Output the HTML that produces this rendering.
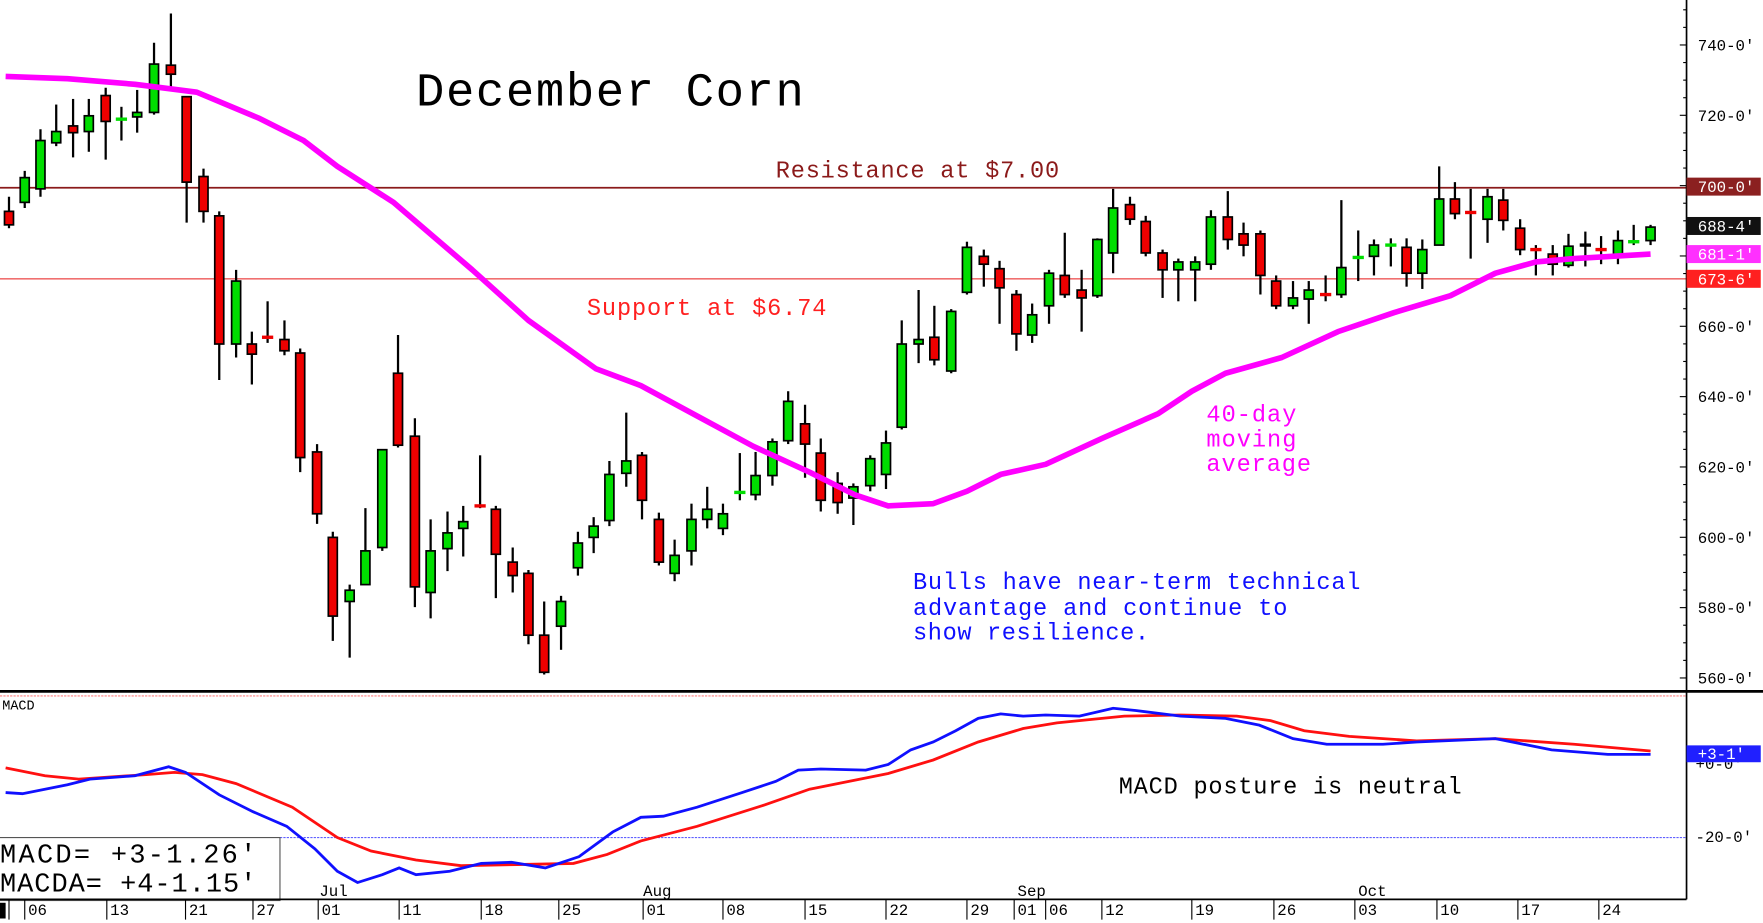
<!DOCTYPE html>
<html><head><meta charset="utf-8"><style>
html,body{margin:0;padding:0;background:#fff;overflow:hidden}
svg{display:block}
text{font-family:"Liberation Mono",monospace}
</style></head><body>
<svg id="s" width="1763" height="923" viewBox="0 0 1568 821" preserveAspectRatio="none" xmlns="http://www.w3.org/2000/svg">
<rect width="1568" height="821" fill="#fff"/>
<line x1="0" y1="167" x2="1500" y2="167" stroke="#8b1a1a" stroke-width="1.5"/>
<line x1="0" y1="248" x2="1500" y2="248" stroke="#f07070" stroke-width="1.5"/>
<g id="cd"></g>
<polyline id="ma" fill="none" stroke="#ff00ff" stroke-width="5" stroke-linejoin="round"/>
<text x="370" y="94" font-size="42" textLength="345" lengthAdjust="spacing" fill="#000">December Corn</text>
<text x="690" y="158" font-size="21" textLength="252" lengthAdjust="spacing" fill="#8b1a1a">Resistance at $7.00</text>
<text x="522" y="280" font-size="21" textLength="213" lengthAdjust="spacing" fill="#ff2020">Support at $6.74</text>
<g font-size="21" fill="#ff00ff"><text x="1073" y="375" textLength="80" lengthAdjust="spacing">40-day</text><text x="1073" y="397" textLength="80" lengthAdjust="spacing">moving</text><text x="1073" y="419" textLength="93" lengthAdjust="spacing">average</text></g>
<g font-size="21" fill="#1010ff"><text x="812" y="524" textLength="398" lengthAdjust="spacing">Bulls have near-term technical</text><text x="812" y="547" textLength="333" lengthAdjust="spacing">advantage and continue to</text><text x="812" y="569" textLength="210" lengthAdjust="spacing">show resilience.</text></g>
<line x1="1500" y1="0" x2="1500" y2="800" stroke="#000" stroke-width="1.5"/>
<g id="ax" font-size="14" fill="#000"></g>
<rect x="1500" y="158" width="66" height="16" fill="#8b2020"/><text x="1510" y="171" font-size="14" fill="#fff">700-0'</text>
<rect x="1500" y="193" width="66" height="16" fill="#111"/><text x="1510" y="206" font-size="14" fill="#fff">688-4'</text>
<rect x="1500" y="218" width="66" height="16" fill="#ff30ff"/><text x="1510" y="231" font-size="14" fill="#fff">681-1'</text>
<rect x="1500" y="240" width="66" height="16" fill="#ff2020"/><text x="1510" y="253" font-size="14" fill="#fff">673-6'</text>
<line x1="0" y1="615" x2="1568" y2="615" stroke="#000" stroke-width="2.5"/>
<line x1="0" y1="619" x2="1500" y2="619" stroke="#ff8080" stroke-width="1" stroke-dasharray="2,1"/>
<text x="2" y="631" font-size="12" fill="#000">MACD</text>
<line x1="0" y1="745" x2="1500" y2="745" stroke="#6060ff" stroke-width="1" stroke-dasharray="2,1"/>
<text x="1508" y="684" font-size="14" fill="#000">+0-0'</text>
<text x="1508" y="749" font-size="14" fill="#000">-20-0'</text>
<polyline id="mr" fill="none" stroke="#ff1010" stroke-width="2.5"/>
<polyline id="mb" fill="none" stroke="#1010ff" stroke-width="2.5"/>
<rect x="1500" y="663" width="66" height="15" fill="#2020ff"/><text x="1510" y="675" font-size="14" fill="#fff">+3-1'</text>
<text x="995" y="706" font-size="21" textLength="305" lengthAdjust="spacing" fill="#000">MACD posture is neutral</text>
<rect x="-1" y="745" width="250" height="56" fill="#fff" stroke="#555" stroke-width="1"/>
<text x="0" y="767" font-size="24" textLength="228" lengthAdjust="spacing" fill="#000">MACD=   +3-1.26'</text>
<text x="0" y="793" font-size="24" textLength="228" lengthAdjust="spacing" fill="#000">MACDA=  +4-1.15'</text>
<line x1="0" y1="800" x2="1500" y2="800" stroke="#000" stroke-width="1.5"/>
<g id="dt" font-size="14" fill="#000"></g>
<g font-size="14" fill="#000"><text x="284" y="797">Jul</text><text x="572" y="797">Aug</text><text x="905" y="797">Sep</text><text x="1208" y="797">Oct</text></g>
<rect x="0" y="803" width="5" height="14" fill="#000"/>
</svg>
<script>
var NS="http://www.w3.org/2000/svg";
function el(p,t,a,txt){var e=document.createElementNS(NS,t);for(var k in a)e.setAttribute(k,a[k]);if(txt)e.textContent=txt;p.appendChild(e);return e;}
var C=[[8,188,200,175,203,'r'],[22,158,180,152,185,'g'],[36,125,168,115,175,'g'],[50,117,127,93,130,'g'],[65,112,118,88,140,'r'],[79,103,117,88,135,'g'],[94,85,108,78,142,'r'],[108,106,106,95,125,'g'],[122,100,104,80,118,'g'],[137,57,100,38,102,'g'],[152,58,66,12,80,'r'],[166,86,162,86,198,'r'],[181,157,188,150,198,'r'],[195,192,306,188,338,'r'],[210,250,306,240,318,'g'],[224,306,315,295,342,'r'],[238,300,300,268,305,'r'],[253,302,312,285,316,'r'],[267,314,407,310,420,'r'],[282,402,457,395,466,'r'],[296,478,548,473,570,'r'],[311,525,535,520,585,'g'],[325,490,520,452,520,'g'],[340,400,487,400,490,'g'],[354,332,396,298,398,'r'],[369,388,522,372,540,'r'],[383,490,527,462,550,'g'],[398,474,488,455,508,'g'],[412,464,470,450,495,'g'],[427,450,450,405,452,'r'],[441,453,493,450,532,'r'],[456,500,512,487,527,'r'],[470,510,565,507,573,'r'],[484,565,598,535,600,'r'],[499,535,557,530,578,'g'],[514,483,505,473,512,'g'],[528,468,478,460,492,'g'],[542,422,463,410,468,'g'],[557,410,421,367,433,'g'],[571,405,445,402,462,'r'],[586,462,500,456,503,'r'],[600,494,510,480,517,'g'],[615,462,490,448,503,'g'],[629,453,462,433,470,'g'],[643,457,470,448,476,'g'],[658,438,438,403,445,'g'],[672,423,440,402,445,'g'],[687,393,423,390,432,'g'],[701,357,392,348,395,'g'],[716,377,395,360,425,'r'],[730,403,445,390,455,'r'],[745,430,447,420,457,'r'],[759,433,443,430,467,'g'],[774,408,432,405,437,'g'],[788,394,422,383,435,'g'],[802,306,380,285,382,'g'],[817,302,306,258,323,'g'],[831,300,320,272,325,'r'],[846,277,330,275,332,'g'],[860,220,260,215,262,'g'],[875,228,235,222,255,'r'],[889,239,256,232,288,'r'],[904,262,297,258,312,'r'],[918,280,298,270,305,'g'],[933,243,272,240,288,'g'],[947,245,262,207,265,'r'],[962,258,265,240,295,'r'],[976,213,263,212,265,'g'],[990,185,225,168,243,'g'],[1005,182,195,175,200,'r'],[1019,197,225,192,228,'r'],[1034,225,240,222,265,'r'],[1048,233,240,230,268,'g'],[1063,233,240,228,268,'g'],[1077,193,235,187,240,'g'],[1092,193,213,170,222,'r'],[1106,208,218,198,228,'r'],[1121,208,245,205,262,'r'],[1135,250,272,245,275,'r'],[1150,265,272,250,275,'g'],[1164,258,266,250,288,'g'],[1179,262,262,245,268,'r'],[1193,238,262,178,265,'g'],[1208,229,229,205,250,'g'],[1222,218,228,213,245,'g'],[1237,218,218,212,237,'g'],[1251,220,243,212,255,'r'],[1265,222,243,213,257,'g'],[1280,177,218,148,218,'g'],[1294,177,190,162,195,'r'],[1308,189,189,168,230,'r'],[1323,175,195,168,216,'g'],[1337,178,196,168,205,'r'],[1352,203,222,195,227,'r'],[1366,222,222,218,245,'r'],[1381,226,235,218,245,'r'],[1395,219,236,208,238,'g'],[1410,218,218,206,237,'k'],[1424,222,222,210,235,'r'],[1439,214,227,205,235,'g'],[1453,215,215,200,218,'g'],[1468,202,214,200,218,'g']];
var g=document.getElementById('cd');
C.forEach(function(c){var col=c[5]=='g'?'#00dd00':c[5]=='r'?'#ee0000':'#000';
el(g,'line',{x1:c[0],y1:c[3],x2:c[0],y2:c[4],stroke:'#000','stroke-width':2});
if(c[2]-c[1]<2){el(g,'rect',{x:c[0]-5,y:c[1]-1.5,width:10,height:3,fill:col});}
else el(g,'rect',{x:c[0]-4,y:c[1],width:8,height:c[2]-c[1],fill:col,stroke:'#000','stroke-width':1.5});});
function pts(a){return a.map(function(p){return p.join(',')}).join(' ');}
document.getElementById('ma').setAttribute('points',pts([[5,68],[60,70],[120,75],[175,82],[230,105],[270,125],[300,148],[350,180],[420,240],[470,285],[530,328],[570,343],[620,370],[670,397],[720,420],[760,440],[790,450],[830,448],[860,437],[890,422],[930,413],[980,390],[1030,368],[1060,348],[1090,332],[1140,318],[1190,295],[1240,278],[1290,263],[1330,243],[1366,233],[1400,230],[1468,226]]));
document.getElementById('mb').setAttribute('points',pts([[5,705],[20,706],[60,698],[80,693],[120,690],[150,682],[165,687],[195,707],[225,722],[255,735],[280,755],[300,775],[318,785],[340,778],[355,772],[370,778],[400,775],[428,768],[455,767],[485,772],[515,762],[545,740],[570,727],[590,726],[620,718],[660,705],[690,695],[710,685],[730,684],[770,685],[790,680],[810,667],[830,660],[850,650],[870,639],[890,635],[910,637],[930,636],[960,637],[990,630],[1010,632],[1050,637],[1090,639],[1120,645],[1150,657],[1180,662],[1230,662],[1260,660],[1330,657],[1380,667],[1430,671],[1468,671]]));
document.getElementById('mr').setAttribute('points',pts([[5,683],[40,690],[70,693],[130,689],[155,687],[180,689],[210,697],[260,718],[300,745],[330,757],[370,765],[410,770],[460,769],[510,768],[540,760],[570,748],[620,735],[680,716],[720,702],[760,694],[790,688],[830,676],[870,660],[910,648],[940,643],[1000,637],[1050,636],[1100,637],[1130,641],[1160,650],[1200,655],[1260,659],[1330,657],[1400,662],[1468,668]]));
var ax=document.getElementById('ax');
for(var p=560;p<=750;p+=5){var y=40+(740-p)*3.128;var big=p%20==0;
el(ax,'line',{x1:big?1494:1497,y1:y,x2:1500,y2:y,stroke:'#000','stroke-width':1});
if(big&&p!=700&&y>10)el(ax,'text',{x:1510,y:y+5},p+"-0'");}
var dt=document.getElementById('dt');
[[22,'06'],[95,'13'],[165,'21'],[225,'27'],[283,'01'],[355,'11'],[428,'18'],[497,'25'],[572,'01'],[643,'08'],[716,'15'],[788,'22'],[860,'29'],[902,'01'],[930,'06'],[980,'12'],[1060,'19'],[1133,'26'],[1205,'03'],[1278,'10'],[1350,'17'],[1422,'24']].forEach(function(d){
el(dt,'line',{x1:d[0],y1:800,x2:d[0],y2:818,stroke:'#000','stroke-width':1});el(dt,'text',{x:d[0]+3,y:814},d[1]);});
el(dt,'line',{x1:8,y1:800,x2:8,y2:818,stroke:'#000','stroke-width':1});
</script>
</body></html>
